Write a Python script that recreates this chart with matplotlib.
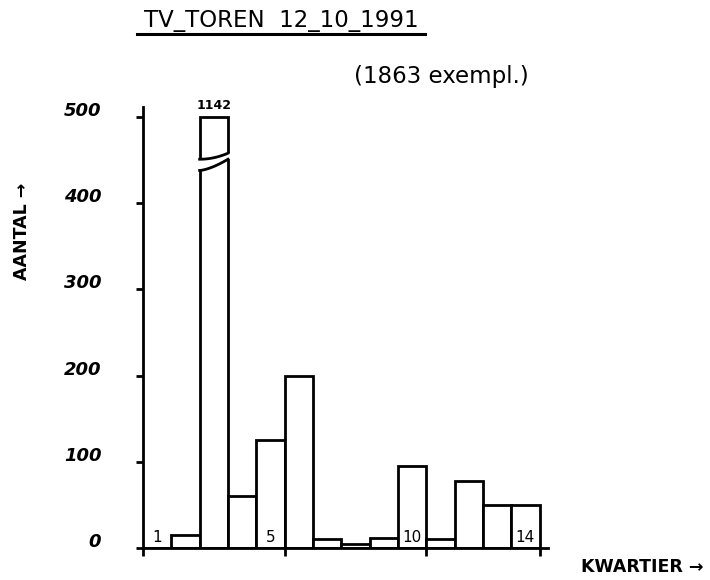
import matplotlib
matplotlib.use("Agg")
import matplotlib.pyplot as plt
import matplotlib.transforms as mtransforms
import numpy as np
from matplotlib.patches import Polygon

kwartier = list(range(1, 15))
aantal = [0, 15, 1142, 60, 125, 200, 10, 5, 12, 95, 10, 78, 50, 50]
cap = 500
ytick_vals = [0, 100, 200, 300, 400, 500]
xtick_vals = [0, 5, 10, 14]
inbar_labels = {1: "1", 5: "5", 10: "10", 14: "14"}
title = "TV_TOREN  12_10_1991"
subtitle = "(1863 exempl.)"

plt.rcParams['font.family'] = ['DejaVu Sans']
fig = plt.figure(figsize=(7.1, 5.8), dpi=100)
W, H = 710, 580
ax = fig.add_axes([143 / W, 1 - 548 / H, 405 / W, 441 / H])

lw = 2.0
heights = [min(v, cap) for v in aantal]
ax.bar([k - 0.5 for k in kwartier], heights, width=1.0, facecolor="white",
       edgecolor="black", linewidth=lw, zorder=2)

# break marks on the clipped bar
for k, v in zip(kwartier, aantal):
    if v > cap:
        xs = np.linspace(k - 1 - 0.1, k + 0.1, 30)
        t = np.clip(xs - (k - 1), 0, 1)
        upper = 451 + 7 * t ** 2
        lower = 438 + 13 * t ** 1.5
        poly = Polygon(np.column_stack([np.r_[xs, xs[::-1]], np.r_[upper, lower[::-1]]]),
                       closed=True, facecolor="white", edgecolor="none", zorder=3)
        ax.add_patch(poly)
        xi = np.linspace(k - 1, k, 30)
        ti = xi - (k - 1)
        ax.plot(xi, 451 + 7 * ti ** 2, color="black", lw=lw, zorder=4)
        ax.plot(xi, 438 + 13 * ti ** 1.5, color="black", lw=lw, zorder=4)
        ax.text(k - 0.5, cap + 6, str(v), ha="center", va="bottom",
                fontsize=9, fontweight="bold")

for k, s in inbar_labels.items():
    ax.text(k - 0.5, 4, s, ha="center", va="bottom", fontsize=11, zorder=5)

ax.set_xlim(0, 14.3)
ax.set_ylim(0, 511.6)
for s in ["top", "right"]:
    ax.spines[s].set_visible(False)
ax.spines["left"].set_linewidth(lw)
ax.spines["bottom"].set_linewidth(lw)
ax.set_yticks(ytick_vals)
ax.set_yticklabels([str(v) for v in ytick_vals], fontsize=13, fontweight="bold",
                   fontstyle="italic")
ax.tick_params(axis="y", length=5, width=lw, pad=25)
shift = mtransforms.ScaledTranslation(0, 8 / 100, fig.dpi_scale_trans)
for lab in ax.get_yticklabels():
    lab.set_transform(lab.get_transform() + shift)
ax.set_xticks(xtick_vals)
ax.set_xticklabels([""] * len(xtick_vals))
ax.tick_params(axis="x", length=6, width=lw, direction="out")

fig.text(281 / W, 1 - 21 / H, title, ha="center", va="center", fontsize=16.5)
fig.add_artist(plt.Line2D([137 / W, 425 / W], [1 - 34 / H, 1 - 34 / H],
                          color="black", lw=2.2))
fig.text(441 / W, 1 - 77 / H, subtitle, ha="center", va="center", fontsize=16.5)
fig.text(22 / W, 1 - 231 / H, "AANTAL →", rotation=90, ha="center", va="center",
         fontsize=12.5, fontweight="bold")
fig.text(642 / W, 1 - 567 / H, "KWARTIER →", ha="center", va="center",
         fontsize=12.5, fontweight="bold")

fig.savefig("out.png", dpi=100)
